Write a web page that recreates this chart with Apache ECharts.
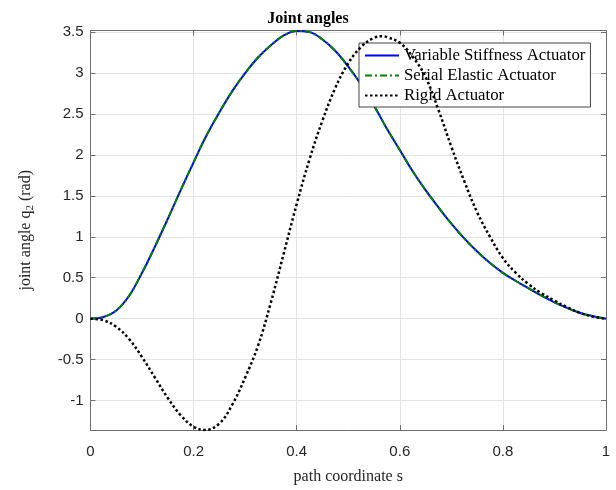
<!DOCTYPE html>
<html>
<head>
<meta charset="utf-8">
<script src="https://cdn.jsdelivr.net/npm/echarts@6/dist/echarts.min.js"></script>
<style>
  html, body { margin: 0; padding: 0; background: #fff; }
  #chart { width: 616px; height: 490px; }
</style>
</head>
<body>
<div id="chart"></div>
<script>
// path coordinate s
var sValues = [0, 0.025, 0.05, 0.075, 0.1, 0.125, 0.15, 0.175, 0.2, 0.222, 0.25, 0.275, 0.3, 0.325, 0.35, 0.375, 0.4, 0.425, 0.45, 0.475, 0.5, 0.525, 0.55, 0.567, 0.575, 0.6, 0.625, 0.65, 0.675, 0.7, 0.725, 0.75, 0.775, 0.8, 0.825, 0.85, 0.875, 0.9, 0.925, 0.95, 0.975, 1];
// joint angle q2 for each actuator
var vsaValues = [0, 0.02, 0.1, 0.28, 0.56, 0.88, 1.22, 1.57, 1.91, 2.2, 2.52, 2.78, 3.0, 3.19, 3.34, 3.46, 3.515, 3.5, 3.41, 3.27, 3.08, 2.86, 2.6, 2.41, 2.32, 2.06, 1.8, 1.57, 1.36, 1.16, 0.98, 0.82, 0.68, 0.56, 0.46, 0.37, 0.28, 0.2, 0.13, 0.07, 0.03, 0];
var seaValues = vsaValues.slice();
var rigidValues = [0, -0.02, -0.1, -0.25, -0.47, -0.72, -0.97, -1.18, -1.32, -1.36, -1.28, -1.05, -0.72, -0.33, 0.2, 0.8, 1.4, 1.95, 2.42, 2.82, 3.12, 3.32, 3.43, 3.45, 3.44, 3.37, 3.2, 2.95, 2.55, 2.1, 1.68, 1.3, 1.0, 0.74, 0.56, 0.42, 0.31, 0.22, 0.14, 0.07, 0.025, 0];
var yTicks = [-1, -0.5, 0, 0.5, 1, 1.5, 2, 2.5, 3, 3.5];
var seriesNames = ['Variable Stiffness Actuator', 'Serial Elastic Actuator', 'Rigid Actuator'];

var pairs = function (ys) {
    return sValues.map(function (s, i) { return [s, ys[i]]; });
};

var axisColor = '#6e6e6e';
var labelFont = { fontFamily: 'Liberation Sans', fontSize: 15, color: '#262626' };

var myChart = echarts.init(document.getElementById('chart'));
var option = {
    backgroundColor: '#fff',
    animation: false,
    title: {
        text: 'Joint angles',
        left: 'center',
        top: 6,
        textStyle: { fontFamily: 'Liberation Serif', fontWeight: 'bold', fontSize: 16, color: '#000' }
    },
    legend: {
        orient: 'vertical',
        left: 359,
        top: 43,
        padding: [4, 5, 3, 5],
        itemGap: 3,
        itemWidth: 34,
        itemHeight: 14,
        borderColor: '#444',
        borderWidth: 1,
        backgroundColor: '#fff',
        itemStyle: { opacity: 0 },
        data: seriesNames,
        textStyle: { fontFamily: 'Liberation Serif', fontSize: 16.8, color: '#000', lineHeight: 16 }
    },
    grid: { left: 90.5, right: 10, top: 30.5, bottom: 55 },
    xAxis: [{
        type: 'value',
        min: 0, max: 1, interval: 0.2,
        name: 'path coordinate s',
        nameLocation: 'middle',
        nameGap: 39,
        nameTextStyle: { fontFamily: 'Liberation Serif', fontSize: 16, color: '#262626' },
        axisLine: { show: true, onZero: false, lineStyle: { color: axisColor } },
        axisTick: { inside: true, length: 5, lineStyle: { color: axisColor } },
        axisLabel: Object.assign({ margin: 14 }, labelFont),
        splitLine: { show: true, lineStyle: { color: '#e3e3e3' } }
    }, {
        type: 'value',
        position: 'top',
        min: 0, max: 1, interval: 0.2,
        axisLine: { show: true, onZero: false, lineStyle: { color: axisColor } },
        axisTick: { inside: true, length: 5, lineStyle: { color: axisColor } },
        axisLabel: { show: false },
        splitLine: { show: false }
    }],
    yAxis: [{
        type: 'value',
        min: -1.36, max: 3.52,
        name: 'joint angle q{sub|2} (rad)',
        nameLocation: 'middle',
        nameRotate: 90,
        nameGap: 55,
        nameTextStyle: {
            fontFamily: 'Liberation Serif', fontSize: 16, color: '#262626',
            rich: { sub: { fontFamily: 'Liberation Serif', fontSize: 11, color: '#262626', padding: [8, 0, 0, 0] } }
        },
        axisLine: { show: true, onZero: false, lineStyle: { color: axisColor } },
        axisTick: { inside: true, length: 5, customValues: yTicks, lineStyle: { color: axisColor } },
        axisLabel: Object.assign({ margin: 7, customValues: yTicks }, labelFont),
        splitLine: { show: true, lineStyle: { color: '#e3e3e3' } }
    }, {
        type: 'value',
        position: 'right',
        min: -1.36, max: 3.52,
        axisLine: { show: true, onZero: false, lineStyle: { color: axisColor } },
        axisTick: { inside: true, length: 5, customValues: yTicks, lineStyle: { color: axisColor } },
        axisLabel: { show: false, customValues: yTicks },
        splitLine: { show: false }
    }],
    series: [{
        name: seriesNames[0],
        type: 'line',
        symbol: 'none',
        smooth: 0.4,
        data: pairs(vsaValues),
        lineStyle: { color: '#0000ff', width: 2 },
        itemStyle: { color: '#0000ff' },
        z: 2
    }, {
        name: seriesNames[1],
        type: 'line',
        symbol: 'none',
        smooth: 0.4,
        data: pairs(seaValues),
        lineStyle: { color: '#008000', width: 2, type: [7, 3, 2, 3] },
        itemStyle: { color: '#008000' },
        z: 3
    }, {
        name: seriesNames[2],
        type: 'line',
        symbol: 'none',
        smooth: 0.4,
        data: pairs(rigidValues),
        lineStyle: { color: '#000', width: 2.5, type: [2.5, 2.5] },
        itemStyle: { color: '#000' },
        z: 4
    }]
};
myChart.setOption(option);
</script>
</body>
</html>
